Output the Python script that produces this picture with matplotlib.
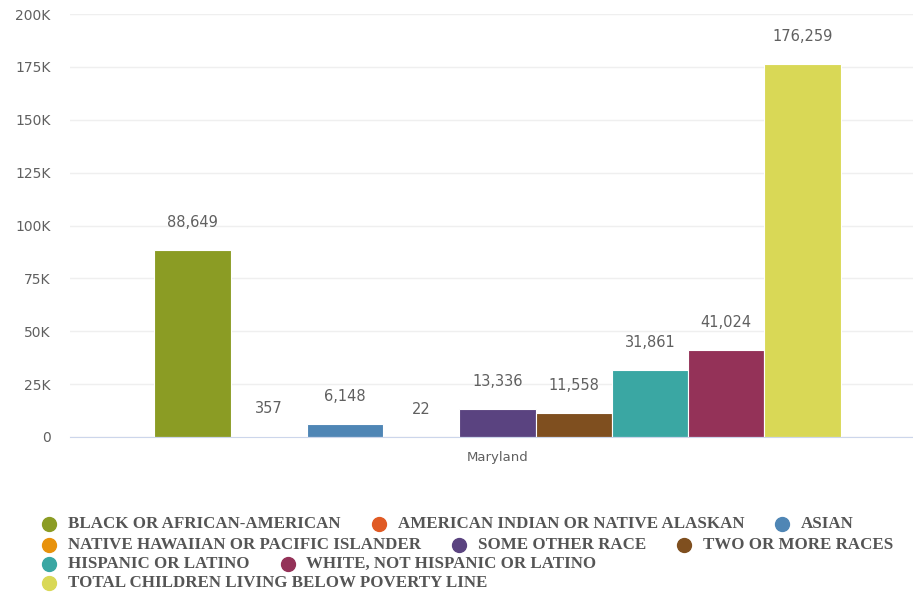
import numpy as np
import matplotlib.pyplot as plt
from matplotlib.lines import Line2D

categories = ['BLACK OR AFRICAN-AMERICAN', 'AMERICAN INDIAN OR NATIVE ALASKAN', 'ASIAN',
              'NATIVE HAWAIIAN OR PACIFIC ISLANDER', 'SOME OTHER RACE', 'TWO OR MORE RACES',
              'HISPANIC OR LATINO', 'WHITE, NOT HISPANIC OR LATINO',
              'TOTAL CHILDREN LIVING BELOW POVERTY LINE']
values = [88649, 357, 6148, 22, 13336, 11558, 31861, 41024, 176259]
colors = ['#8b9c24', '#e05a24', '#4f86b5', '#e8920c', '#5a4380', '#7f4f1f',
          '#3aa7a3', '#943258', '#d9d856']
group = 'Maryland'
yticks = [0, 25000, 50000, 75000, 100000, 125000, 150000, 175000, 200000]
ytick_labels = ['0', '25K', '50K', '75K', '100K', '125K', '150K', '175K', '200K']
legend_rows = [[0, 1, 2], [3, 4, 5], [6, 7], [8]]

W, H = 913, 594
fig = plt.figure(figsize=(W / 100, H / 100), dpi=100)
ax = fig.add_axes([70 / W, 1 - 437 / H, 843 / W, 423 / H])

x = np.arange(len(values))
ax.bar(x, values, width=1.0, color=colors, edgecolor='white', linewidth=0.8, zorder=3)
for xi, v in zip(x, values):
    ax.annotate(f'{v:,}', (xi, v), xytext=(0, 23), textcoords='offset pixels',
                ha='center', va='baseline', fontsize=10.5, color='#606060',
                family='DejaVu Sans')

ax.set_xlim(-1.607, 9.449)
ax.set_ylim(0, 200000)
ax.set_yticks(yticks)
ax.set_yticklabels(ytick_labels, family='DejaVu Sans', fontsize=10, color='#606060')
ax.set_xticks([4])
ax.set_xticklabels([group], family='DejaVu Sans', fontsize=9.5, color='#606060')
ax.tick_params(axis='both', length=0)
ax.tick_params(axis='y', pad=14)
ax.tick_params(axis='x', pad=10)
ax.grid(axis='y', color='#efefef', linewidth=1, zorder=0)
for s in ['top', 'right', 'left']:
    ax.spines[s].set_visible(False)
ax.spines['bottom'].set_color('#ccd6eb')
ax.spines['bottom'].set_zorder(4)

# flowing legend at the bottom
fig.canvas.draw()
renderer = fig.canvas.get_renderer()
row_y = [524, 545, 564, 583]
for row, yy in zip(legend_rows, row_y):
    xx = 49
    for i in row:
        fig.add_artist(Line2D([xx / W], [1 - yy / H], marker='o', markersize=10,
                              color=colors[i], linestyle='none',
                              transform=fig.transFigure))
        t = fig.text((xx + 19) / W, 1 - yy / H, categories[i], fontsize=12.2,
                     color='#555555', family='Liberation Serif', weight='bold',
                     va='center', ha='left')
        w = t.get_window_extent(renderer).width
        xx = xx + 19 + w + 38

fig.savefig('out.png', dpi=100)
